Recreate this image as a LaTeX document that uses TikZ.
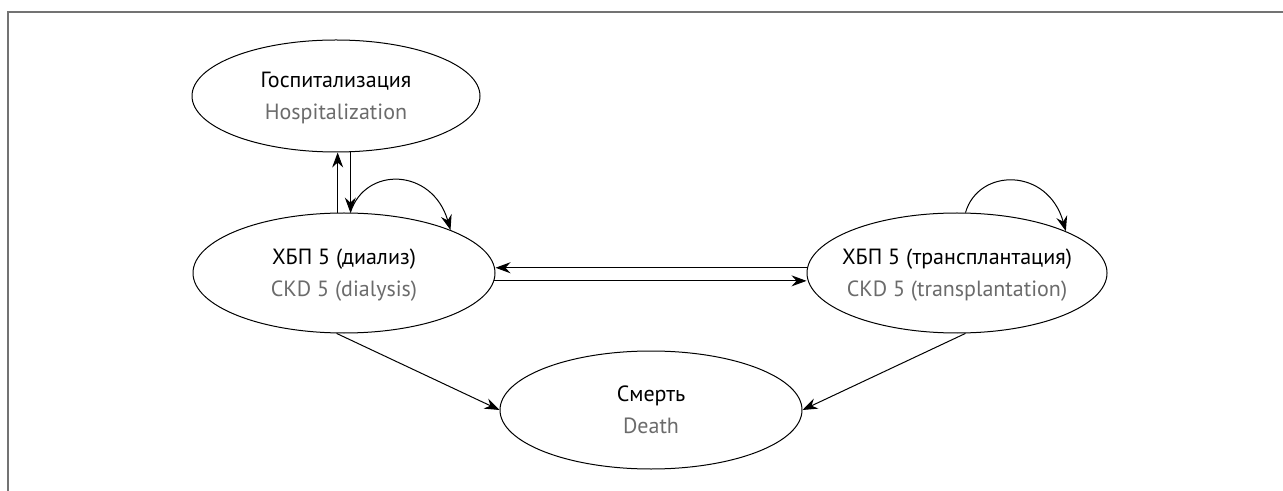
\documentclass[tikz,border=0pt]{standalone}
\usepackage{fontspec}
\setmainfont{PT Sans}
\usetikzlibrary{shapes.geometric,arrows.meta}

\definecolor{engtext}{gray}{0.42}
\definecolor{framegray}{gray}{0.45}

\begin{document}
\begin{tikzpicture}[
  x=0.5pt, y=-0.5pt,
  line width=0.5pt,
  state/.style={ellipse, draw, inner xsep=-5pt, inner ysep=0pt, align=center,
    text depth=0pt, font=\fontsize{11}{16}\selectfont},
  >={Stealth[length=7.5pt,width=5.5pt,inset=2.5pt]},
]
\useasboundingbox (0,0) rectangle (1283,491);
% рамка (только верх и лево)
\draw[framegray, line width=0.75pt] (8,491) -- (8,12) -- (1283,12);

\node[state, minimum width=144pt, minimum height=56pt] (hosp) at (336,96)
  {Госпитализация\\\textcolor{engtext}{Hospitalization}};
\node[state, minimum width=151pt, minimum height=60pt] (dial) at (344,273)
  {ХБП 5 (диализ)\\\textcolor{engtext}{CKD 5 (dialysis)}};
\node[state, minimum width=150pt, minimum height=60pt] (trans) at (957,273)
  {ХБП 5 (трансплантация)\\\textcolor{engtext}{CKD 5 (transplantation)}};
\node[state, minimum width=151pt, minimum height=59pt] (death) at (651,410)
  {Смерть\\\textcolor{engtext}{Death}};

\draw[->] (dial.96) -- (dial.96 |- hosp.south);
\draw[->] (dial.84 |- hosp.south) -- (dial.84);
\draw[->] (dial.84) .. controls +(15,-47) and +(-18,-62) .. (dial.22);
\draw[->] (trans.82) .. controls +(13,-45) and +(-18,-64) .. (trans.21);
\draw[->] (trans.178) -- (trans.178 -| dial.east);
\draw[->] (dial.-3) -- (dial.-3 -| trans.west);
\draw[->] (dial.263) -- (death.west);
\draw[->] (trans.278) -- (death.east);
\end{tikzpicture}
\end{document}
